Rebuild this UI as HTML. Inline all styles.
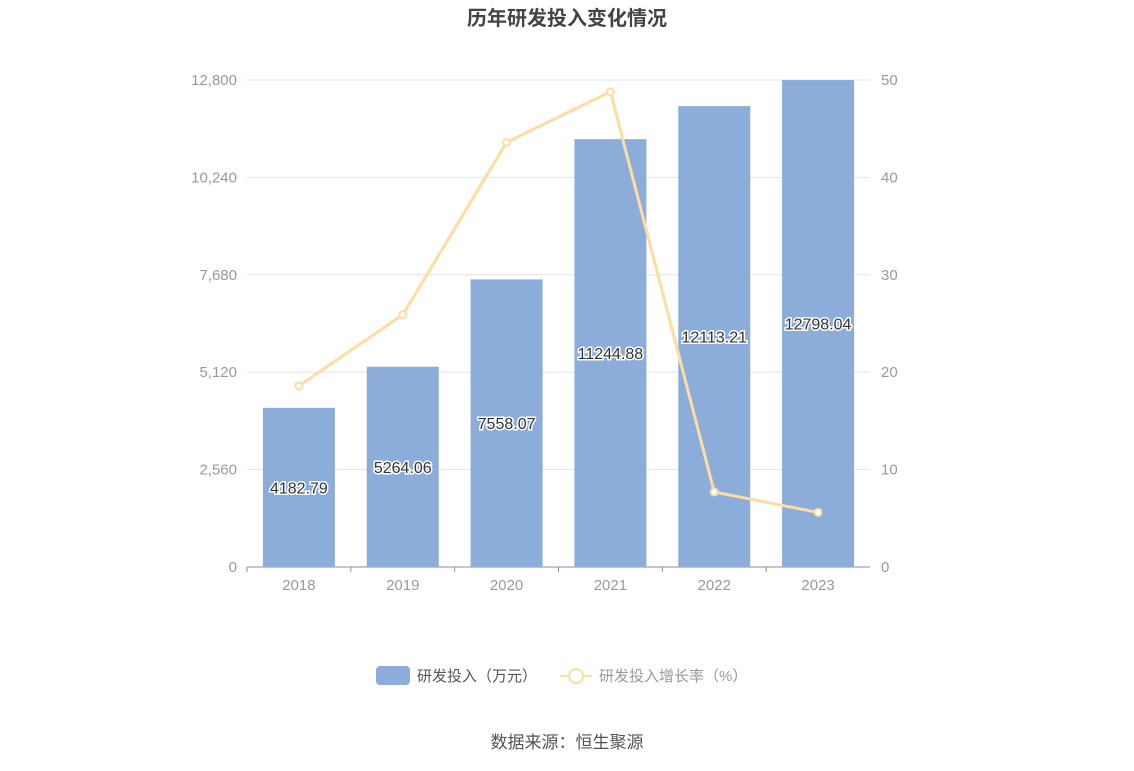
<!DOCTYPE html>
<html><head><meta charset="utf-8"><style>
body{margin:0;background:#fff;font-family:"Liberation Sans","Noto Sans CJK SC",sans-serif}
</style></head><body>
<svg id="c" width="1134" height="766" xmlns="http://www.w3.org/2000/svg" style="font-family:'Liberation Sans','Noto Sans CJK SC',sans-serif">
<text x="567" y="25" text-anchor="middle" font-size="20" font-weight="bold" fill="#444">历年研发投入变化情况</text>
<g id="grid"></g><g id="bars"></g><g id="line"></g><g id="labels"></g>
<g>
<rect x="376" y="666" width="34" height="19" rx="4" fill="#8cadd9"/>
<text x="417" y="681" font-size="15" fill="#555">研发投入（万元）</text>
<line x1="560" y1="676" x2="592" y2="676" stroke="#fddda0" stroke-width="2"/>
<circle cx="576" cy="676" r="7" fill="#fff" stroke="#fddda0" stroke-width="2"/>
<text x="599" y="681" font-size="15" fill="#999">研发投入增长率（%）</text>
</g>
<text x="567" y="748" text-anchor="middle" font-size="17" fill="#555">数据来源：恒生聚源</text>
</svg>
<script>
const categories=["2018","2019","2020","2021","2022","2023"];
const investment=[4182.79,5264.06,7558.07,11244.88,12113.21,12798.04];
const growth=[18.6,25.9,43.6,48.8,7.7,5.6];
const leftTicks=[0,2560,5120,7680,10240,12800];
const rightTicks=[0,10,20,30,40,50];
const NS="http://www.w3.org/2000/svg";
const x0=247,x1=870,yTop=80,yBot=567;
const bw=(x1-x0)/categories.length;
const xc=i=>x0+bw*(i+0.5);
const yL=v=>yBot-(v/12800)*(yBot-yTop);
const yR=v=>yBot-(v/50)*(yBot-yTop);
function mk(t,a,p){const e=document.createElementNS(NS,t);for(const k in a)e.setAttribute(k,a[k]);p.appendChild(e);return e;}
const g=document.getElementById('grid'),b=document.getElementById('bars'),l=document.getElementById('line'),lb=document.getElementById('labels');
leftTicks.forEach((v,i)=>{
 if(v>0){const ln=mk('line',{x1:x0,x2:x1,y1:yL(v),y2:yL(v),stroke:'#e0e3ef','stroke-width':1},g);
 
 }
 const t=mk('text',{x:237,y:yL(v)+5,'text-anchor':'end','font-size':15,fill:'#999'},g);t.textContent=v.toLocaleString('en-US');
 
 
});
rightTicks.forEach(v=>{
 const t=mk('text',{x:881,y:yR(v)+5,'font-size':15,fill:'#999'},g);t.textContent=v;
 
 
});
const ax=mk('line',{x1:x0,x2:x1,y1:yBot,y2:yBot,stroke:'#8a8fa6','stroke-width':1},g);


categories.forEach((c,i)=>{
 const r=mk('rect',{x:xc(i)-36,y:yL(investment[i]),width:72,height:yBot-yL(investment[i]),fill:'#8cadd9'},b);
 
 
 const t=mk('text',{x:xc(i),y:yBot+23,'text-anchor':'middle','font-size':15,fill:'#999'},g);t.textContent=c;
 
 
 const tk=mk('line',{x1:x0+bw*i,x2:x0+bw*i,y1:yBot,y2:yBot+5,stroke:'#8a8fa6'},g);
 
 
 const v=mk('text',{x:xc(i),y:(yL(investment[i])+yBot)/2+6,'text-anchor':'middle','font-size':16,fill:'#333',stroke:'#fff','stroke-width':3,'paint-order':'stroke'},lb);
 v.textContent=investment[i].toFixed(2);
 
 
});
const pl=mk('polyline',{points:growth.map((v,i)=>xc(i)+','+yR(v)).join(' '),fill:'none',stroke:'#fddda0','stroke-width':3},l);


growth.forEach((v,i)=>{
 const c=mk('circle',{cx:xc(i),cy:yR(v),r:3.5,fill:'#fff',stroke:'#fddda0','stroke-width':2},l);
 
 
});
</script>
</body></html>
